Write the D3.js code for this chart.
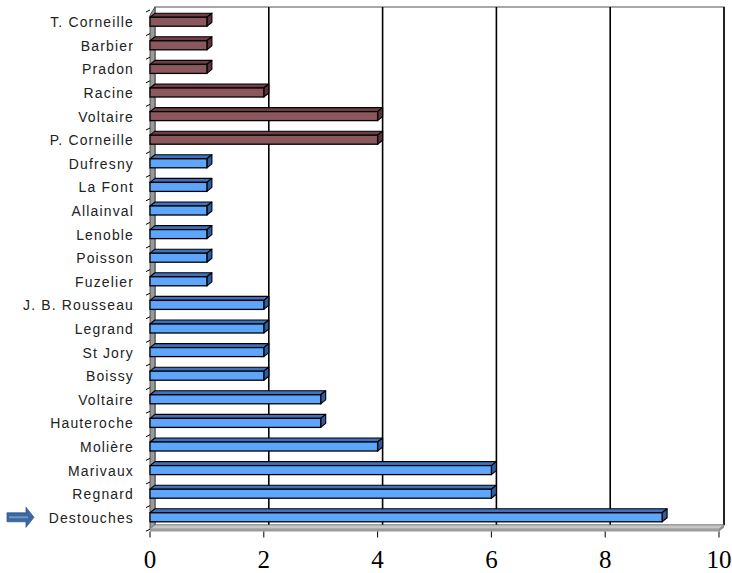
<!DOCTYPE html>
<html>
<head>
<meta charset="utf-8">
<script src="https://cdn.jsdelivr.net/npm/d3@7"></script>
<style>
  html, body { margin: 0; padding: 0; background: #fff; }
  svg { display: block; }
</style>
</head>
<body>
<svg id="chart" width="732" height="573"></svg>
<script>
// Authors, listed top to bottom
const categories = [
  "T. Corneille", "Barbier", "Pradon", "Racine", "Voltaire ", "P. Corneille",
  "Dufresny", "La Font", "Allainval", "Lenoble", "Poisson", "Fuzelier",
  "J. B. Rousseau", "Legrand", "St Jory", "Boissy", "Voltaire", "Hauteroche",
  "Molière", "Marivaux", "Regnard", "Destouches"
];
// Number of plays per author
const values = [1, 1, 1, 2, 4, 4, 1, 1, 1, 1, 1, 1, 2, 2, 2, 2, 3, 3, 4, 6, 6, 9];
// Genre group of each author: "t" (maroon) or "c" (blue)
const groups = ["t", "t", "t", "t", "t", "t",
  "c", "c", "c", "c", "c", "c", "c", "c", "c", "c", "c", "c", "c", "c", "c", "c"];
const xTicks = [0, 2, 4, 6, 8, 10];
const highlighted = "Destouches";

const palette = {
  t: { front: "#8a585e", top: "#6e3f46", side: "#5a3238" },
  c: { front: "#5ea6fb", top: "#3e72bd", side: "#2f5c9e" }
};

const svg = d3.select("#chart");
const DX = 5, DY = -4;            // depth offset of the 3D box
const x = d3.scaleLinear().domain([0, 10]).range([150, 719]);
const y = d3.scaleBand().domain(categories).range([10, 529])
  .paddingInner(0.618).paddingOuter(0.305);
const yTop = 11, yBottom = 529;    // front plane extent
const wallTop = 7;

// back wall
svg.append("rect")
  .attr("x", x(0) + DX).attr("y", wallTop)
  .attr("width", x(10) - x(0)).attr("height", yBottom + DY - wallTop)
  .attr("fill", "#fff").attr("stroke", "#8c8c8c").attr("stroke-width", 1.5);

// vertical gridlines on the back wall
svg.append("g").selectAll("line").data(xTicks.filter(d => d > 0)).join("line")
  .attr("x1", d => x(d) + DX).attr("x2", d => x(d) + DX)
  .attr("y1", wallTop).attr("y2", yBottom + DY)
  .attr("stroke", "#000").attr("stroke-width", 1.6);

// left side wall
svg.append("polygon")
  .attr("points", [[x(0), yTop + 4], [x(0) + DX, wallTop], [x(0) + DX, yBottom + DY], [x(0), yBottom]].join(" "))
  .attr("fill", "#9a9a9a").attr("stroke", "#333").attr("stroke-width", 0.8);

// floor
svg.append("polygon")
  .attr("points", [[x(0), yBottom], [x(10), yBottom], [x(10) + DX, yBottom + DY], [x(0) + DX, yBottom + DY]].join(" "))
  .attr("fill", "#c6c6c6").attr("stroke", "#8a8a8a").attr("stroke-width", 0.8);
svg.append("rect")
  .attr("x", x(0)).attr("y", yBottom).attr("width", x(10) - x(0)).attr("height", 2.5)
  .attr("fill", "#9c9c9c");
svg.append("polygon")
  .attr("points", [[x(10), yBottom], [x(10) + DX, yBottom + DY], [x(10) + DX, yBottom + DY + 2.5], [x(10), yBottom + 2.5]].join(" "))
  .attr("fill", "#8a8a8a");

// category ticks on the left edge
const step = y.step();
const boundaries = d3.range(categories.length + 1).map(i => y.range()[0] + i * step);
svg.append("g").selectAll("line").data(boundaries).join("line")
  .attr("x1", x(0) - 4).attr("x2", x(0))
  .attr("y1", d => d + 2).attr("y2", d => d)
  .attr("stroke", "#000").attr("stroke-width", 1);

// value axis
const axisY = yBottom + 2.5;
svg.append("g").selectAll("line").data(xTicks).join("line")
  .attr("x1", d => x(d)).attr("x2", d => x(d))
  .attr("y1", axisY).attr("y2", axisY + 6)
  .attr("stroke", "#000").attr("stroke-width", 1);
svg.append("g").selectAll("text").data(xTicks).join("text")
  .attr("x", d => x(d)).attr("y", 568)
  .attr("text-anchor", "middle")
  .attr("font-family", "'Liberation Serif', 'Times New Roman', serif")
  .attr("font-size", 25)
  .attr("fill", "#000")
  .text(d => d);

// 3D bars
const rows = categories.map((c, i) => ({ c, v: values[i], g: groups[i] }));
const bars = svg.append("g").selectAll("g").data(rows).join("g");
bars.append("polygon")   // top face
  .attr("points", d => {
    const y0 = y(d.c), x1 = x(d.v);
    return [[x(0), y0], [x1, y0], [x1 + DX, y0 + DY], [x(0) + DX, y0 + DY]].join(" ");
  })
  .attr("fill", d => palette[d.g].top).attr("stroke", "#000").attr("stroke-width", 1.1)
  .attr("stroke-linejoin", "round");
bars.append("polygon")   // end face
  .attr("points", d => {
    const y0 = y(d.c), x1 = x(d.v), h = y.bandwidth();
    return [[x1, y0], [x1 + DX, y0 + DY], [x1 + DX, y0 + DY + h], [x1, y0 + h]].join(" ");
  })
  .attr("fill", d => palette[d.g].side).attr("stroke", "#000").attr("stroke-width", 1.1)
  .attr("stroke-linejoin", "round");
bars.append("rect")      // front face
  .attr("x", x(0)).attr("y", d => y(d.c))
  .attr("width", d => x(d.v) - x(0)).attr("height", y.bandwidth())
  .attr("fill", d => palette[d.g].front).attr("stroke", "#000").attr("stroke-width", 1.3);

// category labels, slightly condensed and letter-spaced
svg.append("g").selectAll("text").data(categories).join("text")
  .attr("transform", d => `translate(134,${y(d) + y.bandwidth() / 2}) scale(0.9,1)`)
  .attr("dy", "0.36em")
  .attr("text-anchor", "end")
  .attr("font-family", "'Liberation Sans', Arial, sans-serif")
  .attr("font-size", 15.5)
  .attr("letter-spacing", "1.3px")
  .attr("fill", "#222")
  .text(d => d.trim());

// arrow pointing at the highlighted author
const ay = y(highlighted) + y.bandwidth() / 2;
const arrow = svg.append("g");
arrow.append("path")
  .attr("d", `M7,${ay - 4.5} H26 V${ay - 10} L34,${ay} L26,${ay + 10} V${ay + 4.5} H7 Z`)
  .attr("fill", "#3b67a2").attr("stroke", "#335c92").attr("stroke-width", 0.8);
arrow.append("line")
  .attr("x1", 9).attr("x2", 28).attr("y1", ay).attr("y2", ay)
  .attr("stroke", "#7497c8").attr("stroke-width", 2);
</script>
</body>
</html>
